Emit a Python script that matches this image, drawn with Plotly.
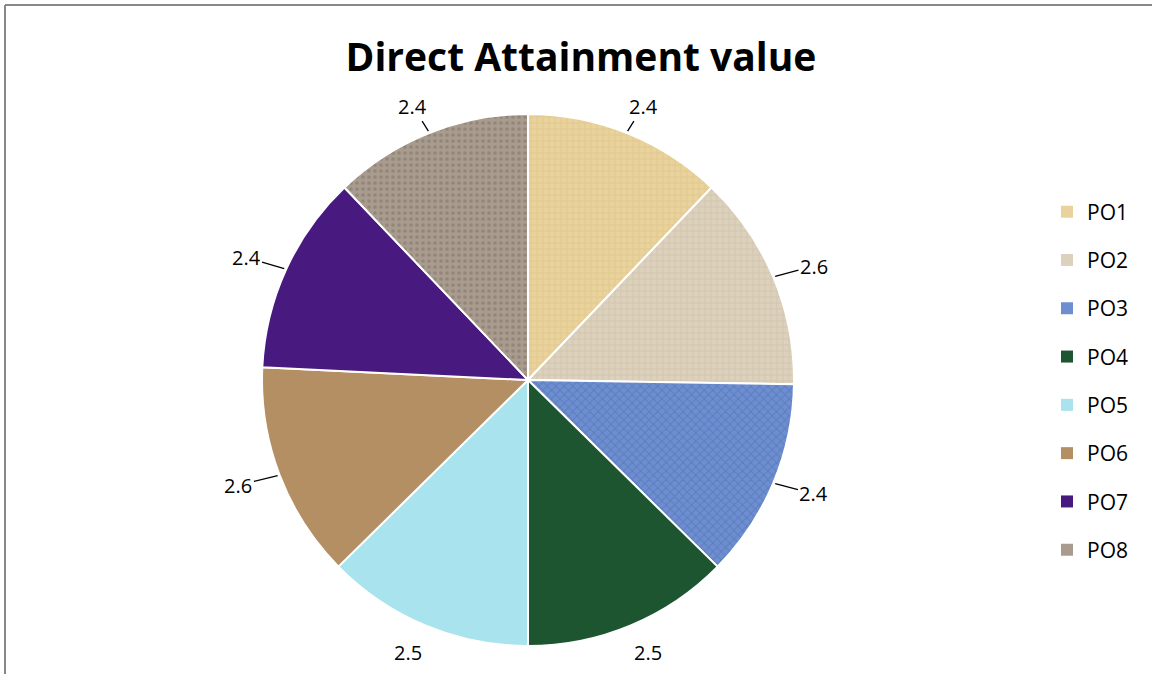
import math
import plotly.graph_objects as go

# ---- data ----
labels = ["PO1", "PO2", "PO3", "PO4", "PO5", "PO6", "PO7", "PO8"]
values = [2.4, 2.6, 2.4, 2.5, 2.5, 2.6, 2.4, 2.4]
title_text = "Direct Attainment value"

# ---- style ----
colors = ["#E9D29C", "#DCD1BC", "#6D8ED0", "#1E5531", "#A9E3EE", "#B48F64", "#48197F", "#A99C8F"]
pattern_shapes = ["+", "+", "x", "", "", "", "", "."]
pattern_fg = ["#D2B878", "#BFB196", "#3D5C9E", "#2E6E45", "#8CCFDC", "#96724A", "#3A126A", "#6A5E52"]
show_leader = [True, True, True, False, False, True, True, True]

W, H = 1152, 674
cx, cy, R = 528, 380, 266          # pie centre & radius in px
label_rx, label_ry = 310, 295       # label distance from centre in px (horiz / vert)
FONT = "'Open Sans', Lato, 'Liberation Sans', sans-serif"

def px_to_paper(x, y):
    return x / W, 1 - y / H

fig = go.Figure()
x0, y1 = px_to_paper(cx - R, cy - R)
x1, y0 = px_to_paper(cx + R, cy + R)
fig.add_trace(go.Pie(
    labels=labels, values=values, sort=False, direction="clockwise", rotation=0,
    textinfo="none", hoverinfo="label+value",
    marker=dict(colors=colors, line=dict(color="white", width=2),
                pattern=dict(shape=pattern_shapes, fgcolor=pattern_fg, bgcolor=colors,
                             fgopacity=0.35, size=6, solidity=0.3)),
    domain=dict(x=[x0, x1], y=[y0, y1]),
    showlegend=False,
))

# legend entries (one group each to control spacing)
for lab, col in zip(labels, colors):
    fig.add_trace(go.Scatter(
        x=[None], y=[None], mode="markers", name=lab, legendgroup=lab,
        marker=dict(symbol="square", size=12, color=col), showlegend=True,
        hoverinfo="skip",
    ))

# data labels placed by slice mid-angle
total = sum(values)
cum = 0.0
annotations = []
for i, v in enumerate(values):
    mid = (cum + v / 2) / total * 2 * math.pi
    cum += v
    lx = cx + label_rx * math.sin(mid)
    ly = cy - label_ry * math.cos(mid)
    ex = cx + (R + 2) * math.sin(mid)
    ey = cy - (R + 2) * math.cos(mid)
    if show_leader[i]:
        px, py = px_to_paper(ex, ey)
        annotations.append(dict(
            x=px, y=py, xref="paper", yref="paper", text=f"{v:.1f}",
            showarrow=True, arrowhead=0, arrowwidth=1.3, arrowcolor="black",
            ax=lx - ex, ay=ly - ey, standoff=0, startstandoff=0,
            font=dict(family=FONT, size=20, color="black"),
        ))
    else:
        px, py = px_to_paper(lx, ly)
        annotations.append(dict(
            x=px, y=py, xref="paper", yref="paper", text=f"{v:.1f}",
            showarrow=False, xanchor="center", yanchor="middle",
            font=dict(family=FONT, size=20, color="black"),
        ))

bx, by = px_to_paper(5, 5)
fig.update_layout(
    width=W, height=H,
    margin=dict(l=0, r=0, t=0, b=0),
    paper_bgcolor="white", plot_bgcolor="white",
    title=dict(text=f"<b>{title_text}</b>", x=581 / W, xref="paper", xanchor="center",
               y=1 - 57 / H, yref="paper", yanchor="middle",
               font=dict(family=FONT, size=39, color="black")),
    xaxis=dict(visible=False), yaxis=dict(visible=False),
    legend=dict(x=1047 / W, xanchor="left", y=1 - 381 / H, yanchor="middle",
                font=dict(family=FONT, size=21, color="black"),
                tracegroupgap=18, bgcolor="rgba(0,0,0,0)"),
    annotations=annotations,
    shapes=[
        dict(type="line", xref="paper", yref="paper", x0=bx, x1=bx, y0=0, y1=by,
             line=dict(color="#888888", width=2)),
        dict(type="line", xref="paper", yref="paper", x0=bx, x1=1, y0=by, y1=by,
             line=dict(color="#888888", width=2)),
    ],
)

fig.write_html("out.html", config={"displayModeBar": False},
               post_script="document.body.style.margin='0';document.body.style.overflow='hidden';")
